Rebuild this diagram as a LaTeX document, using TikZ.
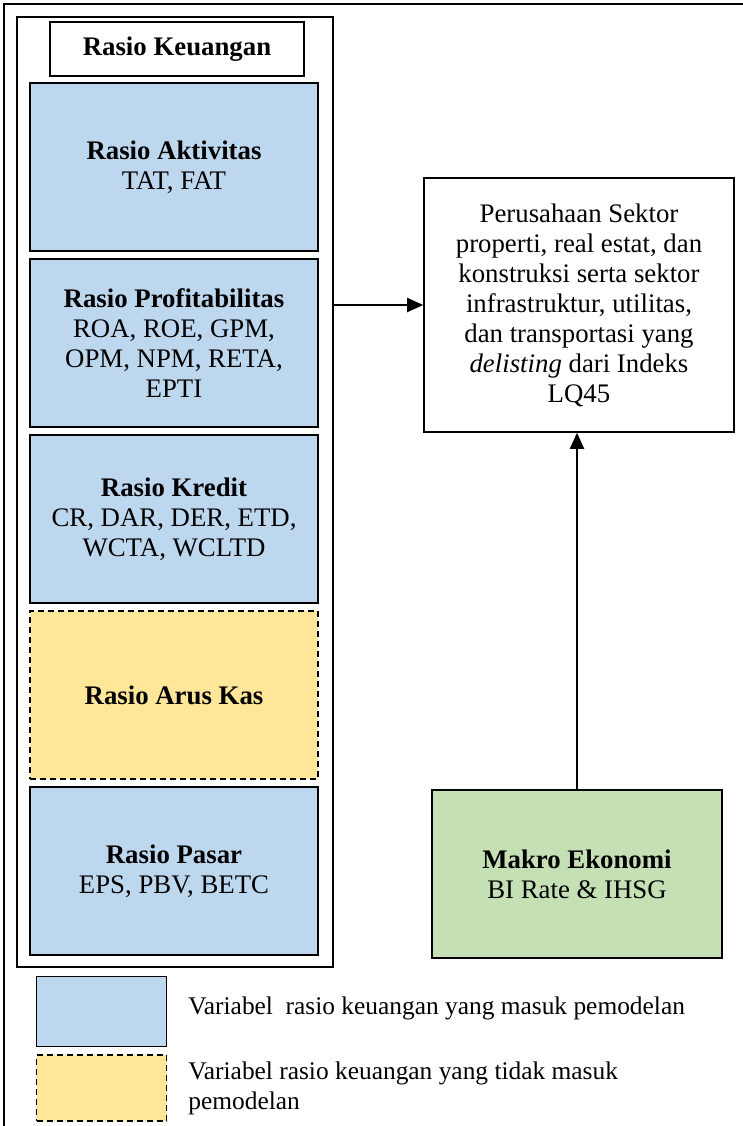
\documentclass[tikz,border=0pt]{standalone}
\usepackage{fontspec}
\setmainfont{Liberation Serif}
\usetikzlibrary{positioning, arrows.meta}
\definecolor{ratioblue}{HTML}{BDD7EE}
\definecolor{ratioyellow}{HTML}{FFE699}
\definecolor{macrogreen}{HTML}{C5E0B4}
\tikzset{
  txt/.style={font=\fontsize{13.4}{15}\selectfont, align=center},
  keytxt/.style={font=\fontsize{12.7}{15}\selectfont, align=left, anchor=west, inner sep=0pt},
  ratiobox/.style={txt, draw, line width=0.8pt, fill=ratioblue, minimum width=144pt, minimum height=84pt},
  skipbox/.style={ratiobox, fill=ratioyellow, dash pattern=on 3pt off 2pt},
  arr/.style={line width=1pt, -{Triangle[length=8pt,width=7pt]}}
}

\begin{document}
\begin{tikzpicture}[x=0.5pt, y=-0.5pt, node distance=88pt]
        \useasboundingbox (0,0) rectangle (743,1126);
        \draw[line width=1pt] (4,1126) -- (4,4) -- (743,4);

        \node (frame) [draw, line width=0.8pt, minimum width=158pt, minimum height=475pt] at (175,492) {};
        \node (title) [txt, draw, line width=0.8pt, minimum width=127pt, minimum height=27pt] at (177,49) {\textbf{Rasio Keuangan}};

        \node (akt) [ratiobox] at (174,167) {\textbf{Rasio Aktivitas}\\TAT, FAT};
        \node (prof) [ratiobox, below of=akt] {\textbf{Rasio Profitabilitas}\\ROA, ROE, GPM,\\OPM, NPM, RETA,\\EPTI};
        \node (kred) [ratiobox, below of=prof] {\textbf{Rasio Kredit}\\CR, DAR, DER, ETD,\\WCTA, WCLTD};
        \node (arus) [skipbox, below of=kred] {\textbf{Rasio Arus Kas}};
        \node (pasar) [ratiobox, below of=arus] {\textbf{Rasio Pasar}\\EPS, PBV, BETC};

        \node (target) [txt, draw, line width=0.8pt, minimum width=155pt, minimum height=127pt] at (579,305)
              {Perusahaan Sektor\\properti, real estat, dan\\konstruksi serta sektor\\infrastruktur, utilitas,\\dan transportasi yang\\\textit{delisting} dari Indeks\\LQ45};
        \node (makro) [ratiobox, fill=macrogreen, minimum width=145pt] at (577,874) {\textbf{Makro Ekonomi}\\BI Rate \& IHSG};

        \draw[arr] (frame.east |- target.west) -- (target.west);
        \draw[arr] (makro.north) -- (makro.north |- target.south);

        % legend
        \node (keyin) [draw, line width=0.8pt, fill=ratioblue, minimum width=65pt, minimum height=35pt] at (101.5,1011.5) {};
        \node (keyout) [draw, line width=0.8pt, fill=ratioyellow, dash pattern=on 3pt off 2pt, minimum width=65pt, minimum height=33pt] at (101.5,1088) {};
        \node (keyintxt) [keytxt] at (188,1008) {Variabel\ \ rasio keuangan yang masuk pemodelan};
        \node (keyouttxt) [keytxt] at (188,1088) {Variabel rasio keuangan yang tidak masuk\\pemodelan};
    \end{tikzpicture}
\end{document}
